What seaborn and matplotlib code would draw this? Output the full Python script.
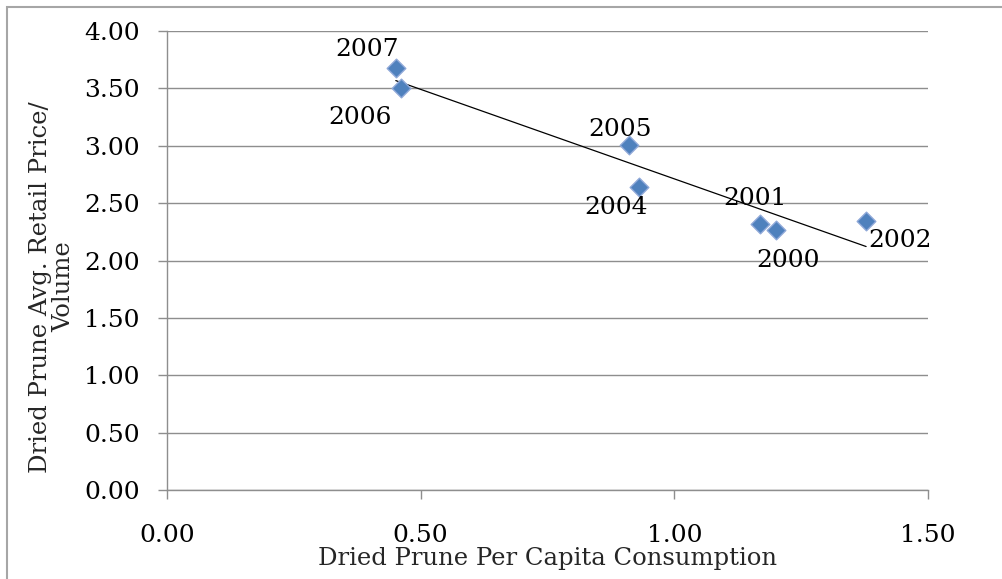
import matplotlib
matplotlib.use("Agg")
import matplotlib.pyplot as plt
from matplotlib.patches import Rectangle
import seaborn as sns
import pandas as pd

# Dried prune consumption vs. average retail price, by year
years = ["2000", "2001", "2002", "2004", "2005", "2006", "2007"]
consumption = [1.200, 1.169, 1.378, 0.930, 0.911, 0.461, 0.451]
price = [2.27, 2.32, 2.34, 2.64, 3.01, 3.50, 3.68]

x_ticks = [0.00, 0.50, 1.00, 1.50]
y_ticks = [0.00, 0.50, 1.00, 1.50, 2.00, 2.50, 3.00, 3.50, 4.00]

# label placement around each marker (pixels)
label_offsets = {
    "2000": (12, -31), "2001": (-5, 25), "2002": (34, -19),
    "2004": (-23, -20), "2005": (-9, 15), "2006": (-41, -29),
    "2007": (-29, 18),
}

df = pd.DataFrame({"year": years, "consumption": consumption, "price": price})

sns.set_theme(style="white")
plt.rcParams["font.family"] = ["DejaVu Serif"]

FS = 18
W, H = 1003, 579
fig = plt.figure(figsize=(W / 100, H / 100), dpi=100)
ax = fig.add_axes([167 / W, (H - 490) / H, (928 - 167) / W, (490 - 31) / H])

grid_c = "#8e8e8e"
ax.set_xlim(x_ticks[0], x_ticks[-1])
ax.set_ylim(y_ticks[0], y_ticks[-1])
ax.set_yticks(y_ticks)
ax.set_xticks(x_ticks)
ax.set_yticklabels([f"{v:.2f}" for v in y_ticks])
ax.set_xticklabels([f"{v:.2f}" for v in x_ticks])
ax.yaxis.grid(True, color=grid_c, lw=1)
ax.set_axisbelow(True)
for s in ["top", "right"]:
    ax.spines[s].set_visible(False)
for s in ["left", "bottom"]:
    ax.spines[s].set_color(grid_c)
    ax.spines[s].set_linewidth(1)
ax.tick_params(axis="both", direction="out", length=6.5, width=1, color=grid_c,
               labelsize=FS, labelcolor="black", bottom=True, left=True)
ax.tick_params(axis="y", pad=13)
ax.tick_params(axis="x", pad=18)

sns.regplot(data=df, x="consumption", y="price", ax=ax, scatter=False, ci=None,
            truncate=True, line_kws={"color": "black", "lw": 0.9})
sns.scatterplot(data=df, x="consumption", y="price", ax=ax, marker="D", s=90,
                color="#4F81BD", edgecolor="#8FA8D8", linewidth=1, zorder=3,
                legend=False)

for yr, xv, yv in zip(years, consumption, price):
    dx, dy = label_offsets[yr]
    ax.annotate(yr, (xv, yv), xytext=(dx, dy), textcoords="offset pixels",
                ha="center", va="center", fontsize=FS, color="black")

ax.set_xlabel("Dried Prune Per Capita Consumption", fontsize=17.5, labelpad=0)
ax.set_ylabel("Dried Prune Avg. Retail Price/\nVolume", fontsize=17.5,
              linespacing=1.0, multialignment="center")
ax.yaxis.label.set(ha="center", va="center", rotation_mode="default")
ax.yaxis.set_label_coords((52 - 167) / 761, (490 - 287) / 459)

# chart frame
fig.patches.append(Rectangle((7 / W, -0.05), 1.2, 1 - 7 / H + 0.05,
                             transform=fig.transFigure, fill=False,
                             edgecolor="#a6a6a6", lw=1.5))

fig.savefig("out.png", dpi=100)
